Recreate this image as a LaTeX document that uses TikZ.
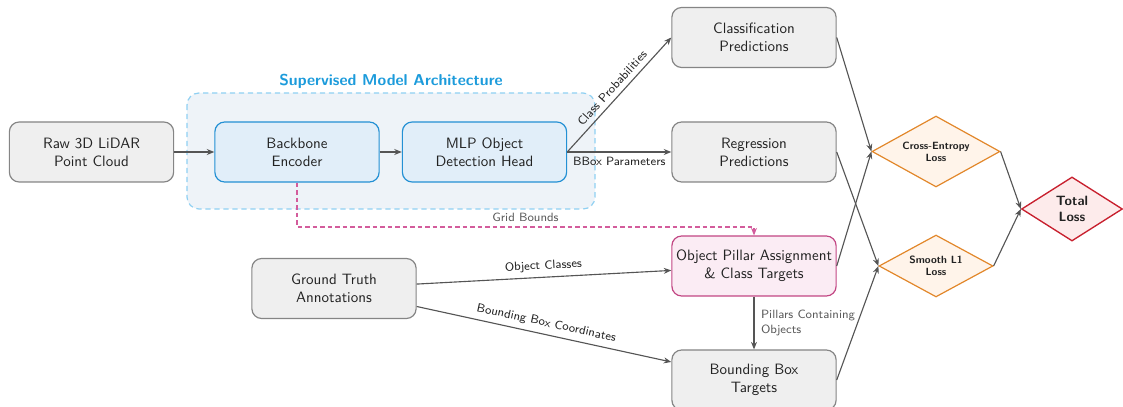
\documentclass[tikz,border=0pt]{standalone}
\usetikzlibrary{shapes.geometric,arrows.meta,calc}
\renewcommand{\familydefault}{\sfdefault}

\definecolor{boxgray}{HTML}{EFEFEF}
\definecolor{edgegray}{HTML}{858585}
\definecolor{inkdark}{HTML}{222222}
\definecolor{arrowgray}{HTML}{555555}
\definecolor{labelgray}{HTML}{5A5A5A}
\definecolor{encfill}{HTML}{E1EEF9}
\definecolor{encedge}{HTML}{2390D4}
\definecolor{groupfill}{HTML}{EEF3F8}
\definecolor{groupedge}{HTML}{8FD0F2}
\definecolor{titleblue}{HTML}{1C9BDB}
\definecolor{pillfill}{HTML}{FBECF4}
\definecolor{pilledge}{HTML}{C24683}
\definecolor{gridpink}{HTML}{D35C9C}
\definecolor{lossfill}{HTML}{FFF4EA}
\definecolor{lossedge}{HTML}{E2872A}
\definecolor{totfill}{HTML}{FDEBEB}
\definecolor{totedge}{HTML}{C8202E}

\tikzset{
  basebox/.style={rectangle, rounded corners=6.5pt, minimum width=109.5pt,
    minimum height=40pt, align=center, line width=0.8pt, text=inkdark,
    font=\normalsize, inner sep=2pt},
  graybox/.style={basebox, draw=edgegray, fill=boxgray},
  encbox/.style={basebox, draw=encedge, fill=encfill},
  pillbox/.style={basebox, draw=pilledge, fill=pillfill},
  lossdiam/.style={diamond, shape aspect=2, inner sep=0pt, draw=lossedge,
    fill=lossfill, line width=0.8pt, align=center, text=inkdark,
    font=\scriptsize\bfseries},
  totdiam/.style={diamond, shape aspect=2, inner sep=0pt, draw=totedge,
    fill=totfill, line width=0.9pt, align=center, text=inkdark,
    font=\small\bfseries, minimum width=67.3pt, minimum height=42.7pt},
  flow/.style={draw=arrowgray, line width=0.75pt,
    -{Stealth[length=5pt,width=4pt]}},
  gridflow/.style={draw=gridpink, line width=0.75pt, dash pattern=on 3pt off 2pt,
    -{Stealth[length=5pt,width=4pt]}},
  elabel/.style={font=\footnotesize, text=inkdark},
  glabel/.style={font=\footnotesize, text=labelgray},
}

\begin{document}
\begin{tikzpicture}[x=0.6667pt, y=-0.6667pt]
\useasboundingbox (0,0) rectangle (1123,407);

% model group panel
\draw[fill=groupfill, draw=groupedge, line width=0.8pt, dash pattern=on 3.5pt off 2.5pt,
  rounded corners=8pt] (187,93) rectangle (595,209);
\node[font=\fontsize{10.5}{12}\selectfont\bfseries, text=titleblue] (title) at (391,81)
  {Supervised Model Architecture};

% boxes
\node[graybox] (raw) at (91.5,152) {Raw 3D LiDAR\\Point Cloud};
\node[encbox] (enc) at (297,152) {Backbone\\Encoder};
\node[encbox] (mlp) at (484.5,152) {MLP Object\\Detection Head};
\node[graybox] (cls) at (754,37.5) {Classification\\Predictions};
\node[graybox] (reg) at (754,152) {Regression\\Predictions};
\node[pillbox] (pill) at (754,266) {Object Pillar Assignment\\\& Class Targets};
\node[graybox] (bbt) at (754,380) {Bounding Box\\Targets};
\node[graybox] (gt) at (334,288.5) {Ground Truth\\Annotations};

% losses
\node[lossdiam, minimum width=85.3pt, minimum height=47.3pt] (ce) at (936,151.5)
  {Cross-Entropy\\Loss};
\node[lossdiam, minimum width=76pt, minimum height=41.3pt] (sl) at (936,266)
  {Smooth L1\\Loss};
\node[totdiam] (tot) at (1072,209) {Total\\Loss};

% connectors
\draw[flow] (raw) -- (enc);
\draw[flow] (enc) -- (mlp);
\draw[flow] (mlp.east) -- node[elabel, midway, above, sloped] {Class Probabilities} (cls.west);
\draw[flow] (mlp.east) -- node[elabel, midway, below] {BBox Parameters} (reg.west);
\draw[flow] (gt) -- node[elabel, midway, above, sloped] {Object Classes} (pill);
\draw[flow] (gt) -- node[elabel, midway, above, sloped] {Bounding Box Coordinates} (bbt);
\draw[flow] (pill.south) -- node[glabel, midway, right, align=left, xshift=1pt]
  {Pillars Containing\\Objects} (bbt.north);
\coordinate (gbend) at (297,227);
\draw[gridflow] (enc.south) -- (gbend) -| node[glabel, pos=0.25, above] {Grid Bounds}
  (pill.north);

\draw[flow] (cls.east) -- (ce.west);
\draw[flow] (pill.east) -- (ce.west);
\draw[flow] (reg.east) -- (sl.west);
\draw[flow] (bbt.east) -- (sl.west);
\draw[flow] (ce.east) -- (tot.west);
\draw[flow] (sl.east) -- (tot.west);
\end{tikzpicture}
\end{document}
